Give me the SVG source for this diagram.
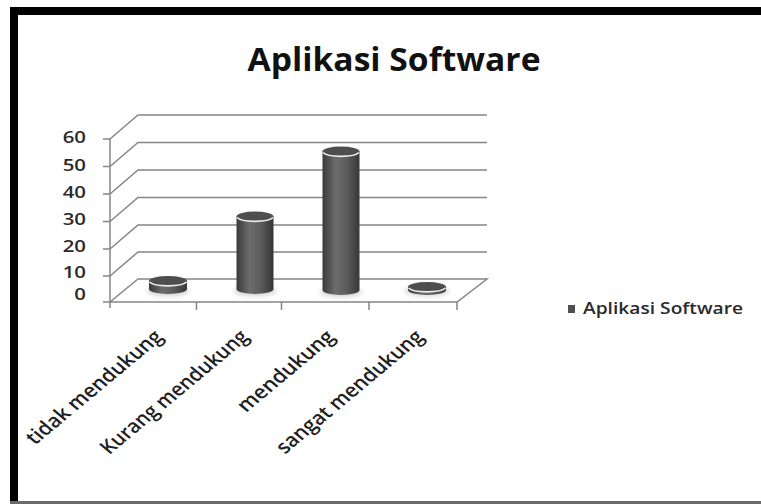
<svg xmlns="http://www.w3.org/2000/svg" width="761" height="504" viewBox="0 0 761 504">
<defs>
<linearGradient id="body" x1="0" y1="0" x2="1" y2="0">
<stop offset="0" stop-color="#3a3a3a"/>
<stop offset="0.35" stop-color="#6c6c6c"/>
<stop offset="0.65" stop-color="#5c5c5c"/>
<stop offset="1" stop-color="#363636"/>
</linearGradient>
<filter id="blur" x="-30%" y="-100%" width="160%" height="300%"><feGaussianBlur stdDeviation="2.5"/></filter>
</defs>
<style>
.grid{stroke:#858585;stroke-width:1.5;fill:none}
.tick{stroke:#858585;stroke-width:1.5;fill:none}
.top{fill:#4e4e4e}
.rim{fill:none;stroke:#ececec;stroke-width:1.6}
.shadow{fill:#cfcfcf;filter:url(#blur)}
.num{font-family:"Open Sans","Noto Sans",sans-serif;font-size:17px;font-weight:600;fill:#2a2a2a;text-anchor:end}
.cat{font-family:"Open Sans","Noto Sans",sans-serif;font-size:19px;font-weight:600;fill:#1e1e1e;text-anchor:end}
.title{font-family:"Open Sans","Noto Sans",sans-serif;font-size:33px;font-weight:bold;fill:#111;text-anchor:middle}
.leg{font-family:"Open Sans","Noto Sans",sans-serif;font-size:16.5px;font-weight:600;fill:#2a2a2a}
</style>
<rect width="761" height="504" fill="#ffffff"/>
<g id="frame">
<line x1="10" y1="11" x2="761" y2="11" stroke="#000" stroke-width="8"/>
<line x1="14" y1="7" x2="14" y2="502" stroke="#000" stroke-width="8"/>
<line x1="10" y1="502.5" x2="761" y2="502.5" stroke="#6a6a6a" stroke-width="3"/>
</g>
<g id="title"><text class="title" x="394" y="71" textLength="293" lengthAdjust="spacingAndGlyphs">Aplikasi Software</text></g>
<g id="connectors">
<path class="grid" d="M110 139 L138 115 H487 M110 166.5 L138 142.5 H487 M110 194 L138 170 H487 M110 221.5 L138 197.5 H487 M110 249 L138 225 H487 M110 276 L138 252 H487 M110 302 L138 279 H487 L457 302 H110"/>
<path class="tick" d="M110 139 V308 M103 139 H110 M103 166.5 H110 M103 194 H110 M103 221.5 H110 M103 249 H110 M103 276 H110 M103 302 H110 M196.5 302 V310 M281.5 302 V310 M369 302 V310 M457 302 V310"/>
</g>
<g id="yaxis" transform="scale(1.2,1)">
<text class="num" x="71.7" y="143.5">60</text>
<text class="num" x="71.7" y="171">50</text>
<text class="num" x="71.7" y="198">40</text>
<text class="num" x="71.7" y="225">30</text>
<text class="num" x="71.7" y="252">20</text>
<text class="num" x="71.7" y="278.5">10</text>
<text class="num" x="71.7" y="300.5">0</text>
</g>
<g id="bar-tidak">
<ellipse class="shadow" cx="168" cy="291" rx="21" ry="5"/>
<path fill="url(#body)" d="M149 281 V289 A19 5 0 0 0 187 289 V281 Z"/>
<ellipse class="top" cx="168" cy="281" rx="19" ry="5"/>
<path class="rim" d="M149.5 282 A19 5 0 0 0 186.5 282"/>
</g>
<g id="bar-kurang">
<ellipse class="shadow" cx="255" cy="291" rx="21" ry="5"/>
<path fill="url(#body)" d="M236.5 216.5 V289 A18.5 5 0 0 0 273.5 289 V216.5 Z"/>
<ellipse class="top" cx="255" cy="216.5" rx="18.5" ry="5"/>
<path class="rim" d="M237 217.5 A18.5 5 0 0 0 273 217.5"/>
</g>
<g id="bar-mendukung">
<ellipse class="shadow" cx="341" cy="292" rx="21" ry="5"/>
<path fill="url(#body)" d="M322.5 151.5 V290 A18.5 5 0 0 0 359.5 290 V151.5 Z"/>
<ellipse class="top" cx="341" cy="151.5" rx="18.5" ry="5"/>
<path class="rim" d="M323 152.5 A18.5 5 0 0 0 359 152.5"/>
</g>
<g id="bar-sangat">
<ellipse class="shadow" cx="427" cy="291" rx="22" ry="5"/>
<path fill="url(#body)" d="M408 287 V290 A19 5 0 0 0 446 290 V287 Z"/>
<ellipse class="top" cx="427" cy="287" rx="19" ry="5"/>
<path class="rim" d="M408.5 288 A19 5 0 0 0 445.5 288"/>
</g>
<g id="categories">
<text class="cat" transform="translate(164,338) scale(1.2,1) rotate(-45)" textLength="152" lengthAdjust="spacingAndGlyphs">tidak mendukung</text>
<text class="cat" transform="translate(250,338) scale(1.2,1) rotate(-45)" textLength="166" lengthAdjust="spacingAndGlyphs">Kurang mendukung</text>
<text class="cat" transform="translate(336,338) scale(1.2,1) rotate(-45)" textLength="106" lengthAdjust="spacingAndGlyphs">mendukung</text>
<text class="cat" transform="translate(425,338) scale(1.2,1) rotate(-45)" textLength="165" lengthAdjust="spacingAndGlyphs">sangat mendukung</text>
</g>
<g id="legend">
<rect x="568" y="305" width="7" height="8" fill="#505050"/>
<text class="leg" x="583" y="314" textLength="160" lengthAdjust="spacingAndGlyphs">Aplikasi Software</text>
</g>
</svg>
